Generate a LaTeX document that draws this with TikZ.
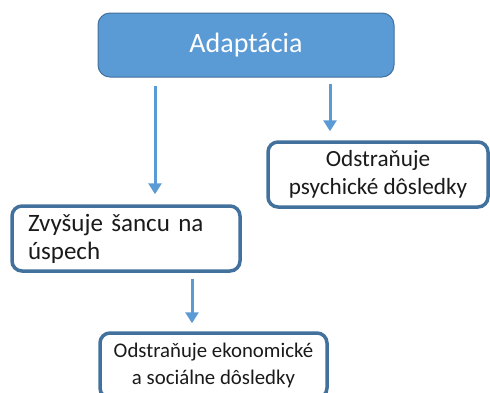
\documentclass[tikz,border=0pt]{standalone}
\usepackage{fontspec}
\setmainfont{Carlito}
\usepackage{xcolor}
\usetikzlibrary{arrows.meta}
\definecolor{primary}{HTML}{5B9BD5}
\definecolor{secondary}{HTML}{41719C}
\definecolor{ink}{HTML}{1A1A1A}

\begin{document}
\begin{tikzpicture}[x=1pt, y=-1pt,
	box/.style={draw=secondary, line width=3.5pt, rounded corners=10pt, fill=white,
		text=ink, minimum height=65pt, font=\fontsize{24}{28}\selectfont},
	link/.style={draw=primary, line width=3pt, -{Triangle[width=13pt,length=11pt]}}]
	\clip (0,0) rectangle (490,392);
	% top
	\node[fill=primary, draw=secondary, line width=1pt, rounded corners=12pt,
		minimum width=296pt, minimum height=64pt, text=white,
		font=\fontsize{28}{32}\selectfont] (adapt) at (246,45) {Adaptácia};
	% outcomes
	\node[box, minimum width=220pt, align=center, font=\fontsize{23.2}{28}\selectfont]
		(psych) at (378,174.5) {Odstraňuje\\psychické dôsledky};
	\node[box, text width=196pt, inner xsep=16pt, align=left, font=\fontsize{25}{28}\selectfont]
		(sanca) at (126,238.5) {Zvyšuje šancu na\\úspech};
	\node[box, minimum width=227pt, align=center, font=\fontsize{20.8}{27}\selectfont]
		(ekon) at (213.5,365.5) {Odstraňuje ekonomické\\a sociálne dôsledky};
	% arrows
	\draw[link, shorten <=8pt, shorten >=10pt]
		([xshift=29pt]sanca.north |- adapt.south) -- ([xshift=29pt]sanca.north);
	\draw[link, shorten <=6pt, shorten >=9pt]
		([xshift=-48pt]psych.north |- adapt.south) -- ([xshift=-48pt]psych.north);
	\draw[link, shorten <=6pt, shorten >=8pt]
		([xshift=-21.5pt]ekon.north |- sanca.south) -- ([xshift=-21.5pt]ekon.north);
\end{tikzpicture}
\end{document}
